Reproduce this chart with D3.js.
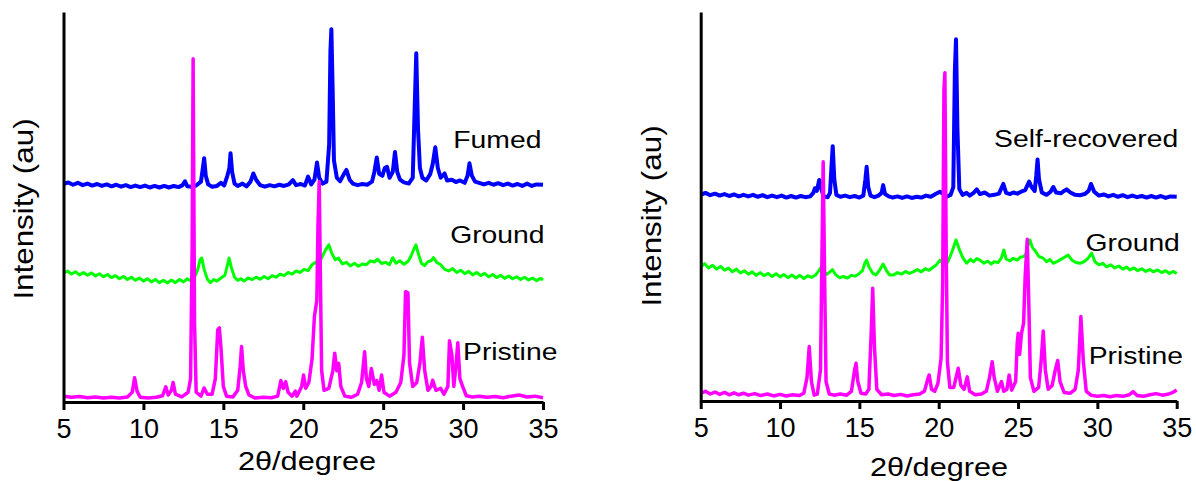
<!DOCTYPE html>
<html>
<head>
<meta charset="utf-8">
<script src="https://cdn.jsdelivr.net/npm/d3@7"></script>
<style>
  body { margin: 0; background: #fff; }
  text { font-family: Arial, "Liberation Sans", sans-serif; fill: #000; }
</style>
</head>
<body>
<div id="main"></div>
<script>
//tick values and text
const xTicks = [5, 10, 15, 20, 25, 30, 35];
const xTitle = "2\u03b8/degree";
const yTitle = "Intensity (au)";
const leftNames = ["Fumed", "Ground", "Pristine"];
const rightNames = ["Self-recovered", "Ground", "Pristine"];

//left panel traces [2theta, intensity]
const leftFumed = [[5,55.9],[5.3,56.3],[5.6,55.7],[5.9,56.2],[6.2,55.6],[6.5,56],[6.8,55.5],[7.1,55.9],[7.4,55.4],[7.7,55.8],[8,55.3],[8.3,55.7],[8.6,55.2],[8.9,55.6],[9.2,55.1],[9.5,55.5],[9.8,55.1],[10.1,55.5],[10.4,55],[10.7,55.4],[11,55],[11.3,55.4],[11.6,55],[11.9,55.4],[12.2,55.1],[12.45,55.6],[12.6,56.6],[12.75,55.3],[13.0,55.2],[13.3,55.5],[13.6,56.5],[13.72,60],[13.8,62.5],[13.9,58],[14.05,55.8],[14.3,55.2],[14.6,55.4],[14.85,56.2],[15.05,55.5],[15.25,58],[15.38,60],[15.45,63.8],[15.55,59],[15.7,56],[15.9,55.4],[16.2,56],[16.45,55.3],[16.7,56.5],[16.88,58.6],[17.05,57],[17.3,55.6],[17.6,55.2],[17.9,55.6],[18.2,55.3],[18.5,55.7],[18.8,55.4],[19.1,55.8],[19.35,56.9],[19.55,55.6],[19.85,55.9],[20.1,55.5],[20.3,57.8],[20.5,55.8],[20.7,57],[20.86,61.4],[21.0,57.5],[21.2,56],[21.45,56.5],[21.62,66],[21.7,90],[21.76,95.6],[21.84,80],[21.92,62],[22.1,57.5],[22.3,56.6],[22.55,58.5],[22.7,59.5],[22.9,57],[23.1,56],[23.4,55.6],[23.7,55.9],[24.0,55.7],[24.3,56.5],[24.45,59],[24.6,62.7],[24.75,58.5],[24.95,58],[25.1,60],[25.24,60.3],[25.4,57.5],[25.6,59],[25.74,64.1],[25.88,59],[26.05,57],[26.3,56.3],[26.6,56],[26.85,57.5],[26.97,75],[27.07,89.4],[27.18,70],[27.3,60],[27.45,57.5],[27.7,56.8],[27.95,58.5],[28.1,61],[28.26,65.3],[28.42,60],[28.6,57.5],[28.84,58.6],[29.0,56.8],[29.3,57],[29.55,56.4],[29.8,56.8],[30.1,56.2],[30.28,58],[30.4,61.2],[30.55,58],[30.75,56.5],[31.0,56.2],[31.3,55.8],[31.6,56.2],[31.9,55.7],[32.2,56.1],[32.5,55.6],[32.8,56],[33.1,55.5],[33.4,55.9],[33.7,55.4],[34.0,56],[34.3,55.4],[34.6,55.8],[35,55.7]];

const leftGround = [[5,33],[5.25,33.6],[5.5,32.8],[5.75,33.4],[6,32.6],[6.25,33.2],[6.5,32.5],[6.75,33.1],[7,32.3],[7.25,32.9],[7.5,32.1],[7.75,32.7],[8,31.9],[8.25,32.4],[8.5,31.6],[8.75,32.2],[9,31.4],[9.25,32],[9.5,31.2],[9.75,31.8],[10,31],[10.25,31.6],[10.5,30.8],[10.75,31.4],[11,30.6],[11.25,31.2],[11.5,30.5],[11.75,31.3],[12,30.6],[12.25,31.4],[12.5,30.8],[12.75,31.6],[13,31],[13.2,32],[13.4,34],[13.55,36.5],[13.65,36.9],[13.8,34],[14,31.5],[14.2,30.6],[14.4,31.4],[14.6,31],[14.85,31.8],[15.1,32.5],[15.25,35],[15.36,36.9],[15.5,34.5],[15.7,32],[15.9,31.2],[16.1,31.6],[16.3,31],[16.55,31.8],[16.8,31.4],[17.05,32],[17.3,31.5],[17.55,32.2],[17.8,31.6],[18.05,32.4],[18.3,32],[18.55,32.8],[18.8,32.4],[19.05,33.2],[19.3,32.8],[19.55,33.6],[19.8,33.2],[20.05,34],[20.3,33.7],[20.55,35.2],[20.75,35.8],[20.95,35],[21.15,37],[21.4,39],[21.6,40.3],[21.8,38],[22.0,36.5],[22.2,36.9],[22.45,35.4],[22.7,35.8],[22.95,34.9],[23.2,35.6],[23.45,34.8],[23.7,35.4],[23.95,35.2],[24.2,36.2],[24.45,35.9],[24.65,36.6],[24.9,35.5],[25.15,35.8],[25.4,35.2],[25.6,37],[25.8,35.6],[26.05,36.2],[26.3,35.3],[26.55,36],[26.75,37.5],[26.95,39.5],[27.05,40.3],[27.2,38],[27.4,35.5],[27.6,35],[27.8,36],[28.0,36.2],[28.15,37],[28.35,35.8],[28.6,35.2],[28.85,34],[29.1,33.6],[29.35,34.2],[29.6,33.2],[29.85,33.8],[30.1,32.9],[30.35,33.5],[30.6,32.6],[30.85,33.2],[31.1,32.4],[31.35,33],[31.6,32.1],[31.85,32.7],[32.1,31.9],[32.35,32.5],[32.6,31.7],[32.85,32.3],[33.1,31.6],[33.35,32.1],[33.6,31.4],[33.85,32],[34.1,31.3],[34.35,31.8],[34.6,31.1],[34.85,31.7],[35,31.3]];

const leftPristine = [[5,1.5],[5.5,1.2],[6,1.4],[6.5,1.1],[7,1.3],[7.5,1.0],[8,1.2],[8.5,1.0],[9,1.3],[9.3,2.5],[9.45,6.2],[9.6,2.8],[9.8,1.2],[10.3,1.0],[10.8,1.2],[11.2,1.6],[11.4,3.9],[11.55,1.8],[11.75,3.0],[11.86,5.0],[12.0,2.0],[12.4,1.3],[12.8,2.5],[12.95,6],[13.05,40],[13.11,88],[13.2,20],[13.3,2.5],[13.6,1.5],[13.8,3.6],[14.0,2.0],[14.3,2.0],[14.5,6],[14.65,18.5],[14.75,19],[14.85,14],[15.0,4],[15.2,1.5],[15.6,1.3],[15.9,3.0],[16.05,9],[16.14,14.2],[16.25,8],[16.4,4],[16.6,1.8],[17,1.0],[17.5,1.2],[18,1.1],[18.4,1.5],[18.6,5.5],[18.75,3.5],[18.9,5.2],[19.05,2.5],[19.3,1.5],[19.5,2.8],[19.6,1.5],[19.9,4],[20.02,6.9],[20.15,3.5],[20.35,5],[20.55,11],[20.7,22],[20.85,26],[20.92,45],[21.0,56.5],[21.08,30],[21.15,8],[21.3,3],[21.6,3.5],[21.85,8],[21.97,12.5],[22.1,8],[22.22,9.9],[22.35,4],[22.6,1.5],[23.0,1.2],[23.4,2],[23.65,5],[23.84,12.9],[23.95,6],[24.1,4],[24.26,8.6],[24.45,4.5],[24.6,5.5],[24.75,3],[24.9,6.9],[25.05,2.5],[25.4,1.5],[25.8,2.5],[26.1,5],[26.3,12],[26.4,28.3],[26.55,28],[26.65,10],[26.85,4],[27.1,5],[27.3,10],[27.45,16.6],[27.6,8],[27.8,3],[28.0,4],[28.1,5.6],[28.3,3],[28.6,3.5],[28.8,2],[29.05,4],[29.15,15.7],[29.3,12],[29.42,4],[29.55,9],[29.67,15.2],[29.8,6],[29.97,4],[30.2,1.6],[30.6,1.3],[31,1.5],[31.5,1.2],[32,1.4],[32.5,1.1],[33,1.5],[33.5,1.8],[34,1.3],[34.5,1.5],[35,1.1]];

//right panel traces [2theta, intensity]
const rightRecovered = [[5,53],[5.3,53.5],[5.6,52.9],[5.9,53.3],[6.2,52.8],[6.5,53.2],[6.8,52.7],[7.1,53.1],[7.4,52.6],[7.7,53],[8,52.6],[8.3,53],[8.6,52.5],[8.9,52.9],[9.2,52.4],[9.5,52.8],[9.8,52.4],[10.1,52.8],[10.4,52.3],[10.7,52.7],[11,52.3],[11.3,52.7],[11.6,52.4],[11.9,52.6],[12.1,53.5],[12.2,54.7],[12.32,54],[12.47,56.8],[12.6,54.5],[12.75,52.6],[13.0,52.4],[13.15,53.5],[13.24,60],[13.32,65.5],[13.42,57],[13.55,53],[13.8,52.5],[14.1,52.8],[14.4,52.4],[14.7,52.7],[15.0,52.3],[15.25,52.8],[15.38,57],[15.46,60.2],[15.56,55],[15.7,52.8],[15.95,52.4],[16.2,52.8],[16.4,53.5],[16.5,55.5],[16.62,53.2],[16.85,52.6],[17.1,52.3],[17.4,52.6],[17.7,52.2],[18,52.6],[18.3,52.2],[18.6,52.5],[18.9,52.3],[19.2,52.8],[19.5,52.5],[19.8,53.2],[20.08,53.8],[20.3,53.2],[20.5,52.5],[20.75,53],[20.92,55],[21.02,85],[21.09,93],[21.18,70],[21.3,54.5],[21.5,53],[21.76,53.5],[21.95,52.8],[22.2,53.5],[22.4,54.4],[22.6,53.2],[22.9,53.6],[23.2,52.8],[23.5,53],[23.8,53.3],[24.07,55.8],[24.25,53.5],[24.5,53.2],[24.7,53.6],[24.95,53.3],[25.2,53.8],[25.45,54.2],[25.7,56.4],[25.85,55],[26.05,54],[26.15,58],[26.23,62.1],[26.32,57],[26.5,53.6],[26.8,53],[27.05,53.8],[27.22,55],[27.4,53.6],[27.7,53.4],[27.9,54],[28.06,54.4],[28.3,53.6],[28.6,53],[28.9,52.9],[29.2,53.2],[29.45,54],[29.6,55.8],[29.8,53.8],[30.1,52.8],[30.4,53.1],[30.7,52.6],[31,53],[31.3,52.5],[31.6,52.9],[31.9,52.4],[32.2,52.8],[32.5,52.4],[32.8,52.7],[33.1,52.3],[33.4,52.7],[33.7,52.3],[34,52.7],[34.3,52.2],[34.6,52.6],[35,52.5]];

const rightGround = [[5,34.5],[5.25,35.3],[5.5,34.2],[5.75,34.9],[6,33.9],[6.25,34.6],[6.5,33.6],[6.75,34.2],[7,33.2],[7.25,33.9],[7.5,32.9],[7.75,33.5],[8,32.6],[8.25,33.2],[8.5,32.3],[8.75,33],[9,32.2],[9.25,32.8],[9.5,32],[9.75,32.7],[10,31.9],[10.25,32.5],[10.5,31.7],[10.75,32.4],[11,31.6],[11.25,32.3],[11.5,31.5],[11.75,32.2],[12,31.8],[12.25,32.4],[12.45,33.5],[12.6,34.5],[12.75,33],[12.95,32.6],[13.15,33.2],[13.3,33.8],[13.5,32.5],[13.75,31.7],[14,32],[14.25,31.6],[14.5,32.3],[14.75,32.1],[15.0,32.8],[15.2,33.5],[15.35,35.5],[15.46,36.2],[15.6,34.5],[15.85,32.8],[16.05,32.4],[16.25,33.5],[16.5,35.2],[16.7,33.6],[16.9,32.4],[17.15,32.4],[17.4,33],[17.65,32.6],[17.9,33.3],[18.15,32.8],[18.4,33.2],[18.65,33.8],[18.9,33.2],[19.15,34],[19.4,33.6],[19.65,34.4],[19.85,35],[20.08,36.2],[20.25,35.5],[20.39,34.5],[20.6,36],[20.85,38.5],[21.09,41.4],[21.3,39],[21.5,37],[21.76,35.4],[22.0,36.4],[22.2,35.8],[22.4,36.6],[22.6,36.2],[22.85,35.4],[23.1,36],[23.3,35.2],[23.5,35.8],[23.75,35.6],[23.95,36.8],[24.11,38.8],[24.25,36.5],[24.5,36],[24.7,36.7],[24.95,36.2],[25.15,37],[25.33,37.1],[25.5,37.8],[25.62,40],[25.75,41.4],[25.9,39.5],[26.1,38.5],[26.3,37.2],[26.59,36.7],[26.8,35.8],[27.0,36.4],[27.22,35.4],[27.45,35.8],[27.7,36.4],[27.95,37],[28.16,37.5],[28.4,36.2],[28.65,35.6],[28.9,35.4],[29.15,35.8],[29.4,36.6],[29.64,38],[29.85,35.8],[30.1,35],[30.35,35.4],[30.58,34.5],[30.85,35],[31.1,34.2],[31.35,34.7],[31.6,33.9],[31.85,34.4],[32.05,33.7],[32.3,34.2],[32.55,33.5],[32.8,34],[33.05,33.3],[33.3,33.8],[33.52,33.2],[33.8,33.7],[34.05,33],[34.3,33.5],[34.55,32.8],[34.8,33.3],[35,32.8]];

const rightPristine = [[5,2],[5.3,2.5],[5.6,1.8],[5.9,2.3],[6.2,1.7],[6.5,2.2],[6.8,1.6],[7.1,2.1],[7.4,1.6],[7.7,2],[8,1.5],[8.4,1.9],[8.8,1.4],[9.2,1.8],[9.6,1.3],[10,1.7],[10.4,1.3],[10.8,1.6],[11.2,1.4],[11.5,2],[11.7,6],[11.84,14],[11.98,5],[12.15,1.5],[12.35,1.8],[12.55,8],[12.65,40],[12.72,61.5],[12.8,35],[12.9,5],[13.1,1.8],[13.4,1.5],[13.8,1.8],[14.2,1.5],[14.5,2.5],[14.7,8],[14.79,9.7],[14.9,5],[15.1,2],[15.4,1.8],[15.6,3],[15.75,18],[15.84,29],[15.95,14],[16.1,3],[16.4,1.6],[16.8,1.8],[17.2,1.4],[17.6,1.7],[18,1.3],[18.4,1.6],[18.8,1.8],[19.1,2.5],[19.3,5.5],[19.4,6.7],[19.55,3],[19.75,2.5],[19.95,4.5],[20.15,11],[20.25,30],[20.33,80],[20.39,84.4],[20.47,40],[20.55,10],[20.7,3.5],[20.95,3.5],[21.15,7],[21.23,8.4],[21.4,4],[21.6,3],[21.8,6.2],[21.95,2.5],[22.3,1.6],[22.7,1.8],[23.0,2.5],[23.2,6],[23.37,10.1],[23.5,6],[23.7,2.5],[23.96,5],[24.1,2.5],[24.3,3],[24.44,6.7],[24.6,2.8],[24.85,5],[24.95,15],[25.01,17.4],[25.1,12],[25.22,17.4],[25.35,20],[25.45,32],[25.58,41.6],[25.68,25],[25.78,6],[26.0,2.5],[26.3,3.5],[26.45,10],[26.59,18],[26.72,8],[26.9,3],[27.15,4],[27.35,8],[27.5,10.4],[27.65,5],[27.9,2.2],[28.3,2],[28.6,3],[28.8,8],[28.96,21.7],[29.12,10],[29.3,2.5],[29.6,1.5],[30,1.2],[30.4,1.4],[30.8,1.1],[31.2,1.4],[31.6,1.2],[32,1.6],[32.26,2.4],[32.5,1.4],[32.9,1.2],[33.3,1.6],[33.7,1.9],[34.1,1.5],[34.5,1.8],[34.8,2.3],[35,2.8]];

const colors = ["#0000ff", "#00ff00", "#ff00ff"];
const widths = [4, 3, 3.5];

//svg container
const svg = d3.select('#main')
              .append('svg')
              .attr('width', 1196)
              .attr('height', 481);

//draws one panel
const drawPanel = p => {
  const xScale = d3.scaleLinear().domain([5, 35]).range([p.left, p.right]);
  const yScale = d3.scaleLinear().domain([0, 100]).range([p.bottom, p.top]);

  const line = d3.line()
    .x(d => xScale(d[0]))
    .y(d => yScale(d[1]));

  //traces, pristine last so its tall peaks sit on top
  p.series.forEach((s, i) => {
    svg.append('path')
      .datum(s)
      .attr('fill', 'none')
      .attr('stroke', colors[i])
      .attr('stroke-width', widths[i])
      .attr('stroke-linejoin', 'round')
      .attr('d', line);
  });

  //x axis
  const xAxis = d3.axisBottom(xScale)
    .tickValues(xTicks)
    .tickSize(8)
    .tickSizeOuter(0)
    .tickPadding(9);
  const gx = svg.append('g')
    .attr('transform', 'translate(0,' + p.bottom + ')')
    .call(xAxis);
  gx.select('.domain').attr('stroke', '#000').attr('stroke-width', 3);
  gx.selectAll('.tick line').attr('stroke', '#000').attr('stroke-width', 3);
  gx.selectAll('.tick text')
    .attr('fill', '#000')
    .style('font-size', '27px')
    .style('font-family', 'Arial, "Liberation Sans", sans-serif');

  //y axis, only the line
  const gy = svg.append('g')
    .attr('transform', 'translate(' + p.left + ',0)')
    .call(d3.axisLeft(yScale).tickValues([]).tickSizeOuter(0));
  gy.select('.domain').attr('stroke', '#000').attr('stroke-width', 3);

  //axis titles
  svg.append('text')
    .attr('transform', 'translate(' + p.xTitleX + ',' + p.xTitleY + ') scale(1.18,1)')
    .attr('text-anchor', 'middle')
    .style('font-size', '26px')
    .text(xTitle);

  svg.append('text')
    .attr('transform', 'translate(' + p.yTitleX + ',' + p.yTitleY + ') rotate(-90) scale(1.12,1)')
    .attr('text-anchor', 'middle')
    .style('font-size', '28px')
    .text(yTitle);

  //trace names
  p.names.forEach((n, i) => {
    svg.append('text')
      .attr('transform', 'translate(' + xScale(p.labelAt[i][0]) + ',' + yScale(p.labelAt[i][1]) + ') scale(1.18,1)')
      .attr('text-anchor', 'end')
      .style('font-size', '24px')
      .text(n);
  });
};

drawPanel({
  left: 63.5, right: 543, top: 12, bottom: 402,
  series: [leftFumed, leftGround, leftPristine],
  names: leftNames,
  labelAt: [[34.9, 65.1], [35.1, 40.7], [35.9, 10.8]],
  xTitleX: 307, xTitleY: 470,
  yTitleX: 33, yTitleY: 209
});

drawPanel({
  left: 700.7, right: 1176.7, top: 12, bottom: 401,
  series: [rightRecovered, rightGround, rightPristine],
  names: rightNames,
  labelAt: [[35.09, 65.4], [35.2, 38.6], [35.4, 9.5]],
  xTitleX: 939, xTitleY: 476,
  yTitleX: 661, yTitleY: 216
});
</script>
</body>
</html>
